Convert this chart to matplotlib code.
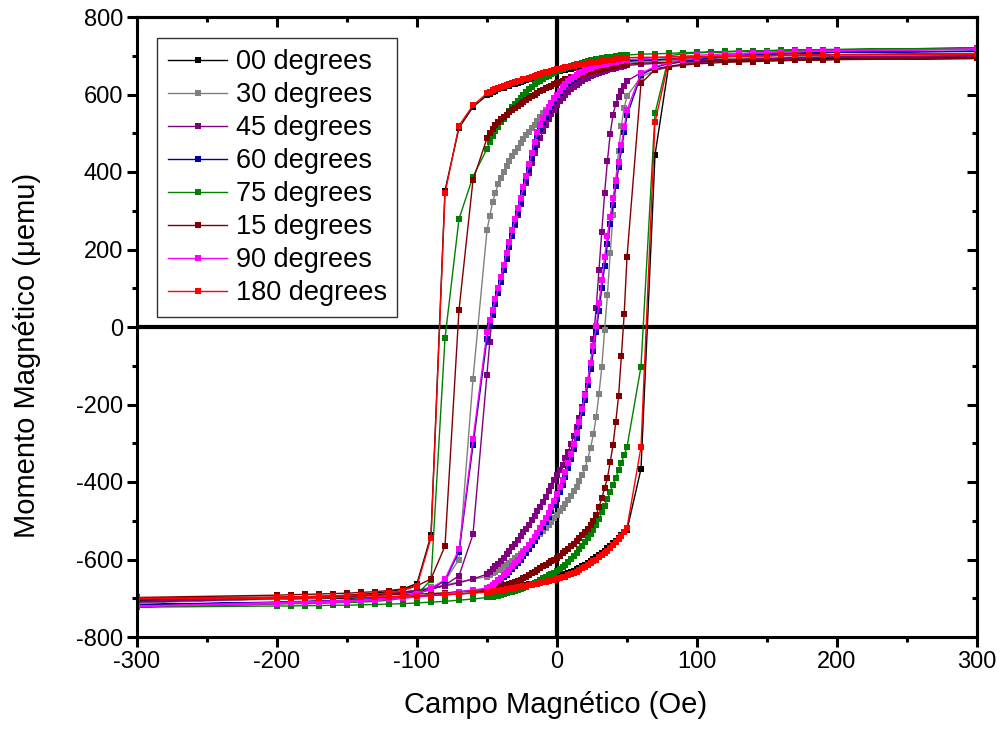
import matplotlib
matplotlib.use('Agg')
import matplotlib.pyplot as plt
from matplotlib.ticker import MultipleLocator

plt.rcParams['font.family'] = ['Liberation Sans', 'DejaVu Sans']
plt.rcParams['axes.unicode_minus'] = False

# Applied field grid (Oe), descending sweep; ascending sweep is the reverse
field_down = [300,
              200, 190, 180, 170, 160, 150, 140, 130, 120, 110, 100, 90, 80, 70, 60,
              50, 48, 46, 44, 42, 40, 38, 36, 34, 32, 30, 28, 26, 24, 22, 20, 18, 16, 14, 12, 10, 8, 6, 4, 2,
              0,
              -2, -4, -6, -8, -10, -12, -14, -16, -18, -20, -22, -24, -26, -28, -30, -32, -34, -36, -38, -40,
              -42, -44, -46, -48, -50,
              -60, -70, -80, -90, -100, -110, -120, -130, -140, -150, -160, -170, -180, -190, -200,
              -300]
field_up = field_down[::-1]

labels = ['00 degrees', '30 degrees', '45 degrees', '60 degrees',
          '75 degrees', '15 degrees', '90 degrees', '180 degrees']
colors = ['#000000', '#808080', '#800080', '#0000A8',
          '#008000', '#800000', '#FF00FF', '#FF0000']

# ---- 00 degrees ----
m00_down = [697,
            695, 695, 694, 694, 693, 693, 692, 692, 691, 691, 690, 690, 689, 688, 688,
            687, 686, 686, 685, 684, 684, 683, 682, 681, 680, 679, 678, 677, 676, 675, 674, 673, 672, 670, 669,
            667, 666, 664, 663, 661,
            660,
            658, 656, 654, 652, 650, 648, 646, 643, 641, 639, 637, 635, 632, 630, 628, 626, 623, 621, 618, 616,
            613, 610, 606, 602, 598,
            568, 514, 352, -538, -662, -676, -683, -687, -690, -692, -694, -695, -696, -697, -698,
            -704]
m00_up = [-706,
          -702, -702, -701, -701, -700, -700, -699, -698, -697, -696, -695, -693, -691, -689, -686,
          -682, -681, -680, -679, -678, -677, -676, -675, -673, -672, -671, -669, -668, -666, -665, -663, -662,
          -660, -658, -657, -655, -653, -651, -649, -647,
          -645,
          -643, -640, -638, -635, -632, -629, -625, -621, -617, -613, -609, -604, -599, -594, -588, -583, -577,
          -571, -564, -558, -551, -544, -537, -530, -524,
          -366, 444, 680, 684, 686, 687, 688, 689, 690, 691, 692, 692, 693, 693, 694,
          697]

# ---- 30 degrees ----
m30_down = [701,
            699, 698, 698, 697, 696, 696, 695, 694, 693, 692, 691, 689, 688, 686, 684,
            681, 679, 678, 676, 674, 672, 670, 668, 665, 663, 660, 657, 654, 651, 647, 643, 639, 635, 630, 625,
            620, 615, 609, 603, 597,
            590,
            583, 576, 568, 560, 551, 542, 532, 522, 513, 504, 495, 484, 474, 463, 452, 441, 429, 415, 401, 385,
            368, 347, 322, 286, 250,
            -134, -600, -655, -672, -680, -685, -689, -692, -694, -696, -697, -698, -699, -700, -701,
            -710]
m30_up = [-712,
          -702, -701, -700, -699, -698, -696, -694, -691, -688, -684, -679, -673, -666, -658, -651,
          -644, -640, -636, -632, -628, -624, -619, -614, -609, -603, -597, -591, -585, -579, -572, -565, -558,
          -550, -542, -534, -526, -518, -510, -502, -494,
          -486,
          -476, -466, -456, -446, -436, -424, -412, -398, -383, -365, -340, -312, -276, -233, -172, -103, -8,
          83, 190, 290, 380, 455, 520, 565, 596,
          645, 662, 670, 676, 680, 684, 687, 689, 691, 693, 694, 695, 696, 697, 698,
          701]

# ---- 45 degrees ----
m45_down = [699,
            696, 695, 695, 694, 693, 692, 691, 690, 689, 687, 686, 684, 682, 680, 678,
            675, 674, 672, 671, 669, 667, 665, 663, 661, 659, 656, 653, 650, 647, 643, 639, 635, 630, 625, 619,
            613, 606, 599, 591, 582,
            572,
            561, 549, 536, 521, 505, 488, 470, 448, 424, 398, 372, 345, 318, 290, 262, 234, 206, 178, 150, 124,
            98, 72, 45, -38, -123,
            -535, -642, -666, -677, -683, -687, -690, -692, -694, -695, -696, -697, -698, -698, -699,
            -708]
m45_up = [-710,
          -701, -700, -699, -698, -697, -695, -693, -691, -688, -684, -680, -675, -668, -660, -650,
          -638, -632, -625, -618, -611, -603, -595, -586, -577, -568, -559, -550, -540, -530, -520, -510, -499,
          -488, -476, -464, -451, -438, -424, -410, -395,
          -382,
          -369, -355, -339, -322, -303, -282, -259, -234, -206, -174, -138, -95, -30, 50, 148, 245, 345,
          428, 498, 548, 576, 594, 608, 622, 635,
          656, 666, 673, 678, 682, 685, 687, 689, 691, 692, 693, 694, 695, 696, 697,
          699]

# ---- 60 degrees ----
m60_down = [712,
            709, 708, 707, 706, 705, 704, 703, 701, 700, 698, 696, 694, 692, 690, 688,
            686, 685, 684, 683, 681, 680, 679, 677, 675, 674, 672, 670, 667, 665, 662, 659, 655, 651, 646, 641,
            635, 629, 621, 613, 603,
            593,
            582, 570, 557, 543, 528, 510, 490, 465, 437, 408, 378, 349, 320, 293, 265, 236, 206, 176, 146, 116,
            87, 59, 32, 4, -30,
            -305, -580, -654, -677, -688, -694, -698, -701, -703, -705, -706, -707, -708, -709, -710,
            -716]
m60_up = [-717,
          -711, -710, -709, -708, -707, -706, -705, -703, -701, -698, -695, -691, -687, -683, -679,
          -676, -672, -668, -663, -658, -652, -646, -639, -632, -625, -617, -609, -600, -591, -582, -572, -562,
          -551, -540, -528, -516, -503, -490, -476, -460,
          -443,
          -426, -407, -386, -364, -340, -314, -286, -256, -223, -188, -150, -108, -63, -14, 42, 100, 158,
          214, 266, 316, 364, 412, 458, 503, 546,
          650, 670, 680, 686, 690, 694, 697, 700, 702, 704, 705, 706, 707, 708, 709,
          711]

# ---- 75 degrees ----
m75_down = [720,
            716, 716, 715, 715, 714, 713, 712, 712, 711, 710, 709, 708, 706, 705, 704,
            702, 701, 701, 700, 699, 698, 697, 696, 695, 694, 692, 691, 689, 688, 686, 684, 682, 680, 678, 676,
            673, 671, 668, 666, 663,
            660,
            656, 653, 649, 645, 641, 636, 631, 626, 620, 614, 607, 599, 592, 584, 576, 567, 558, 548, 538, 528,
            517, 505, 492, 477, 460,
            388, 279, -29, -653, -690, -700, -705, -708, -710, -711, -712, -713, -714, -714, -715,
            -722]
m75_up = [-723,
          -720, -720, -719, -719, -718, -718, -717, -716, -715, -714, -712, -710, -708, -705, -702,
          -698, -697, -696, -694, -693, -691, -689, -687, -685, -683, -681, -679, -676, -673, -670, -667, -664,
          -661, -657, -653, -649, -645, -641, -637, -634,
          -630,
          -625, -619, -613, -606, -599, -591, -583, -574, -565, -555, -545, -534, -523, -511, -495, -478, -461,
          -443, -425, -407, -389, -370, -350, -330, -310,
          -102, 551, 700, 705, 707, 709, 710, 711, 712, 713, 714, 714, 715, 716, 716,
          720]

# ---- 15 degrees ----
m15_down = [693,
            691, 690, 690, 689, 689, 688, 688, 687, 686, 686, 685, 684, 683, 682, 681,
            678, 677, 676, 675, 673, 672, 671, 669, 668, 666, 664, 662, 661, 659, 657, 655, 653, 651, 649, 646,
            644, 641, 639, 636, 633,
            630,
            627, 623, 620, 616, 612, 608, 604, 599, 595, 590, 585, 580, 576, 571, 566, 560, 554, 548, 542, 536,
            529, 521, 512, 501, 487,
            379, 44, -565, -650, -668, -676, -680, -683, -685, -687, -688, -689, -690, -691, -692,
            -698]
m15_up = [-700,
          -697, -697, -696, -696, -695, -694, -693, -692, -691, -690, -689, -688, -686, -684, -682,
          -680, -679, -677, -675, -673, -671, -669, -667, -664, -661, -658, -655, -652, -648, -644, -640, -635,
          -631, -627, -622, -618, -614, -610, -605, -600,
          -595,
          -590, -584, -578, -572, -566, -559, -552, -545, -537, -529, -520, -511, -500, -485, -464, -442, -416,
          -390, -349, -305, -244, -177, -74, 34, 180,
          629, 664, 672, 676, 679, 681, 683, 684, 685, 686, 687, 688, 689, 689, 690,
          693]

# ---- 90 degrees ----
m90_down = [717,
            713, 712, 712, 711, 710, 709, 708, 706, 705, 703, 701, 699, 697, 695, 692,
            690, 688, 687, 686, 684, 683, 682, 680, 679, 677, 675, 673, 671, 669, 666, 663, 659, 655, 651, 646,
            640, 634, 627, 619, 610,
            600,
            590, 579, 567, 554, 540, 522, 502, 477, 449, 420, 390, 361, 333, 306, 278, 250, 220, 190, 160, 130,
            100, 72, 45, 18, -13,
            -290, -573, -651, -676, -688, -695, -699, -702, -704, -706, -707, -708, -709, -710, -711,
            -720]
m90_up = [-721,
          -714, -713, -712, -711, -710, -709, -707, -705, -703, -700, -697, -693, -689, -684, -679,
          -674, -670, -665, -660, -654, -648, -641, -634, -626, -618, -610, -601, -592, -583, -573, -563, -553,
          -542, -531, -519, -507, -494, -480, -465, -449,
          -432,
          -414, -395, -374, -352, -328, -302, -274, -244, -211, -175, -136, -94, -48, 2, 62, 122, 180,
          235, 285, 332, 378, 425, 470, 515, 560,
          655, 672, 682, 689, 694, 698, 701, 704, 706, 708, 709, 710, 711, 712, 713,
          717]

# ---- 180 degrees ----
m180_down = [705,
             703, 702, 702, 701, 701, 700, 700, 699, 699, 698, 698, 697, 697, 696, 696,
             695, 694, 693, 692, 691, 690, 689, 688, 687, 686, 685, 684, 683, 682, 681, 680, 678, 677, 676, 674,
             673, 671, 670, 668, 667,
             665,
             663, 661, 659, 657, 655, 653, 650, 648, 645, 643, 641, 639, 636, 634, 632, 630, 628, 625, 623, 620,
             617, 614, 611, 607, 603,
             572, 520, 345, -544, -668, -680, -686, -689, -691, -693, -694, -695, -696, -697, -698,
             -700]
m180_up = [-702,
           -700, -700, -699, -699, -698, -698, -697, -697, -696, -695, -694, -693, -691, -689, -687,
           -684, -683, -682, -681, -680, -679, -678, -677, -676, -674, -673, -672, -670, -669, -668, -666, -665,
           -663, -662, -660, -659, -657, -656, -654, -653,
           -651,
           -649, -646, -644, -641, -638, -635, -631, -627, -623, -619, -615, -610, -605, -600, -594, -589, -583,
           -577, -570, -563, -556, -548, -539, -529, -518,
           -310, 528, 690, 694, 696, 697, 698, 699, 700, 700, 701, 701, 702, 702, 703,
           705]

series_down = [m00_down, m30_down, m45_down, m60_down, m75_down, m15_down, m90_down, m180_down]
series_up = [m00_up, m30_up, m45_up, m60_up, m75_up, m15_up, m90_up, m180_up]

W, H = 1002, 735
fig = plt.figure(figsize=(W / 100, H / 100), dpi=100)
ax = fig.add_axes([137 / W, 1 - 637 / H, 840 / W, 620 / H])

ax.axhline(0, color='black', lw=3.0, zorder=1.5)
ax.axvline(0, color='black', lw=3.0, zorder=1.5)

for lab, col, yd, yu in zip(labels, colors, series_down, series_up):
    ax.plot(field_down + field_up, yd + yu, color=col, lw=1.0, marker='s',
            markersize=4, markeredgewidth=0, label=lab, zorder=2)

ax.set_xlim(-300, 300)
ax.set_ylim(-800, 800)
ax.xaxis.set_major_locator(MultipleLocator(100))
ax.xaxis.set_minor_locator(MultipleLocator(50))
ax.yaxis.set_major_locator(MultipleLocator(200))
ax.yaxis.set_minor_locator(MultipleLocator(100))
ax.tick_params(which='major', direction='out', length=7, width=2.2, labelsize=17, pad=3)
ax.tick_params(which='minor', direction='out', length=3.8, width=2.2)

for sp in ax.spines.values():
    sp.set_linewidth(2.2)

secx = ax.secondary_xaxis('top')
secx.xaxis.set_major_locator(MultipleLocator(100))
secx.xaxis.set_minor_locator(MultipleLocator(50))
secx.tick_params(which='major', direction='in', length=7, width=2.2, labeltop=False)
secx.tick_params(which='minor', direction='in', length=3.8, width=2.2)
secx.spines['top'].set_linewidth(2.2)

secy = ax.secondary_yaxis('right')
secy.yaxis.set_major_locator(MultipleLocator(200))
secy.yaxis.set_minor_locator(MultipleLocator(100))
secy.tick_params(which='major', direction='in', length=7, width=2.2, labelright=False)
secy.tick_params(which='minor', direction='in', length=3.8, width=2.2)
secy.spines['right'].set_linewidth(2.2)

fig.text(556 / W, 1 - 705 / H, 'Campo Magnético (Oe)', fontsize=21,
         ha='center', va='center')
fig.text(27 / W, 1 - 355 / H, 'Momento Magnético (\u03bcemu)', fontsize=21,
         ha='center', va='center', rotation=90)

leg = ax.legend(loc='upper left', bbox_to_anchor=(0.0238, 0.9656), borderaxespad=0,
                fontsize=19.5, frameon=True, fancybox=False, edgecolor='black',
                handlelength=2.2, handletextpad=0.3, labelspacing=0.26,
                borderpad=0.4, numpoints=1)
leg.get_frame().set_linewidth(1.0)

fig.savefig('out.png', dpi=100)
